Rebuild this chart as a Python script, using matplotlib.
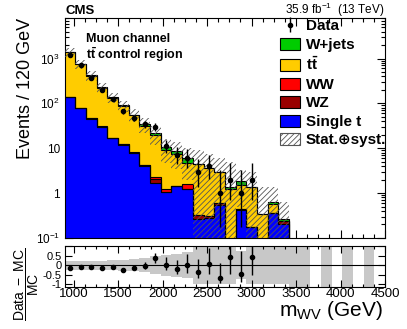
import numpy as np
import matplotlib.pyplot as plt
from matplotlib.ticker import MultipleLocator, FixedLocator, FuncFormatter, LogLocator, NullFormatter
from matplotlib.patches import Patch

plt.rcParams['font.family'] = ['Liberation Sans', 'DejaVu Sans']
plt.rcParams['mathtext.fontset'] = 'custom'
plt.rcParams['mathtext.rm'] = 'Liberation Sans'
plt.rcParams['mathtext.it'] = 'Liberation Sans:italic'
plt.rcParams['mathtext.bf'] = 'Liberation Sans:bold'
plt.rcParams['axes.unicode_minus'] = False
plt.rcParams['hatch.linewidth'] = 0.6

# binning: 120 GeV bins from 900 to 4500 GeV
bin_lo = 900
bin_width = 120
n_bins = 30

# MC components per bin (only the first 21 bins are filled)
single_t = [139, 79, 45.6, 29.7, 16.6, 12, 7.8, 4.1, 1.72, 1.07, 1.45,
            1.24, 0.27, 0.275, 0.53, 0, 0.42, 0.18, 0, 0.356, 0.209]
wz = [1.0, 0.7, 0.5, 0.4, 0.3, 0.2, 0.15, 0.1, 0.33, 0, 0,
      0, 0.05, 0.035, 0.07, 0, 0.02, 0, 0, 0, 0.035]
ww = [1.5, 1.0, 0.7, 0.5, 0.4, 0.3, 0.2, 0.1, 0.18, 0.15, 0,
      0.34, 0, 0, 0, 0, 0, 0, 0, 0, 0]
ttbar = [1250, 678, 368, 194, 115, 74.5, 46.3, 26.4, 17.1, 8.0, 5.85,
         3.2, 4.2, 3.4, 2.4, 1.21, 1.04, 1.22, 0.338, 0.22, 0]
wjets = [20, 14, 9, 8, 5, 3.5, 1.5, 4, 2.5, 1.4, 1.2,
         1.2, 0, 0, 0, 0.17, 0.4, 0, 0, 0.065, 0.02]

# relative stat+syst uncertainty (up / down), also used for the ratio band
unc_up = [0.23, 0.23, 0.24, 0.25, 0.26, 0.28, 0.32, 0.37, 0.47, 0.55, 0.6,
          0.68, 1.05, 1.05, 1.05, 2.5, 0.75, 1.1, 3.0, 1.1, 1.4,
          2, 2, 0, 2, 0, 2, 0, 2, 0]
unc_dn = [0.23, 0.23, 0.24, 0.25, 0.26, 0.28, 0.32, 0.37, 0.47, 0.55, 0.6,
          0.68, 1, 1, 1, 1, 0.74, 1, 1, 1, 1,
          2, 2, 0, 2, 0, 2, 0, 2, 0]

# observed events (first 18 bins)
data = [1220, 705, 375, 200, 123, 66, 48, 34, 30, 11, 7, 6, 3, 4, 1, 2, 1, 2]

colors = {'Single t': '#0000ff', 'WZ': '#990000', 'WW': '#ff0000',
          'tt': '#ffcc00', 'W+jets': '#00cc00'}

edges = bin_lo + bin_width * np.arange(n_bins + 1)
centers = 0.5 * (edges[1:] + edges[:-1])


def pad(v):
    return np.pad(np.array(v, dtype=float), (0, n_bins - len(v)))


fig = plt.figure(figsize=(4.07, 3.29), dpi=100)
ax = fig.add_axes([0.159, 0.2766, 0.787, 0.6687])
ax2 = fig.add_axes([0.159, 0.1277, 0.787, 0.1246])

floor = 1e-4
bottom = np.full(n_bins, floor)
stack = [('Single t', single_t), ('WZ', wz), ('WW', ww), ('tt', ttbar), ('W+jets', wjets)]
for name, vals in stack:
    top = bottom + pad(vals)
    ax.stairs(top, edges, baseline=bottom, fill=True, color=colors[name], lw=0, zorder=2)
    ax.stairs(top, edges, baseline=None, color='k', lw=0.8, zorder=3)
    bottom = top
total = bottom - floor

nmc = len(single_t)
up = np.array(unc_up)
dn = np.array(unc_dn)
hi = total[:nmc] * (1 + up[:nmc])
lo = np.clip(total[:nmc] * (1 - dn[:nmc]), floor, None)
ax.stairs(hi, edges[:nmc + 1], baseline=lo, fill=True, facecolor='none',
          edgecolor='#555555', hatch='//////', lw=0, zorder=4)

# data with approximate Poisson (Garwood) intervals
n = np.array(data, dtype=float)
lo_lim = n * (1 - 1 / (9 * n) - 1 / (3 * np.sqrt(n))) ** 3
hi_lim = (n + 1) * (1 - 1 / (9 * (n + 1)) + 1 / (3 * np.sqrt(n + 1))) ** 3
err = [n - lo_lim, hi_lim - n]
xd = centers[:len(data)]
hdata = ax.errorbar(xd, n, yerr=err, fmt='o', color='k', ms=3, lw=1, capsize=0, zorder=5)

ax.set_yscale('log')
ax.set_ylim(0.1, 8000)
ax.set_xlim(edges[0], edges[-1])
ax.xaxis.set_major_locator(MultipleLocator(500))
ax.xaxis.set_minor_locator(MultipleLocator(125))
ax.yaxis.set_major_locator(FixedLocator([0.1, 1, 10, 100, 1000]))
ax.yaxis.set_minor_locator(LogLocator(base=10, subs=np.arange(2, 10)))
ax.yaxis.set_minor_formatter(NullFormatter())
ylab = {0.1: '$10^{-1}$', 1: '1', 10: '10', 100: '$10^{2}$', 1000: '$10^{3}$'}
ax.yaxis.set_major_formatter(FuncFormatter(lambda v, p: ylab.get(round(v, 1), '')))
ax.tick_params(which='both', direction='in', top=True, right=True, labelbottom=False,
               labelsize=8.5, width=0.8)
ax.tick_params(which='major', length=6)
ax.tick_params(which='minor', length=3)
ax.set_ylabel('Events / 120 GeV', fontsize=13, loc='top')
ax.yaxis.set_label_coords(-0.095, 1.0)

handles = [hdata,
           Patch(facecolor=colors['W+jets'], edgecolor='k', lw=0.8),
           Patch(facecolor=colors['tt'], edgecolor='k', lw=0.8),
           Patch(facecolor=colors['WW'], edgecolor='k', lw=0.8),
           Patch(facecolor=colors['WZ'], edgecolor='k', lw=0.8),
           Patch(facecolor=colors['Single t'], edgecolor='k', lw=0.8),
           Patch(facecolor='white', edgecolor='#555555', hatch='//////', lw=0.8)]
labels = ['Data', 'W+jets', r'$\mathbf{t\bar{t}}$', 'WW', 'WZ', 'Single t', 'Stat.\u2295syst.']
ax.legend(handles, labels, loc='upper left', bbox_to_anchor=(0.672, 0.995), frameon=False,
          prop={'weight': 'bold', 'size': 11}, handlelength=1.3, handleheight=0.85,
          labelspacing=0.27, handletextpad=0.4, borderpad=0, borderaxespad=0)

ax.text(0.066, 0.905, 'Muon channel', transform=ax.transAxes, fontsize=9, fontweight='bold', va='center')
ax.text(0.066, 0.834, r'$\mathbf{t\bar{t}}$ control region', transform=ax.transAxes,
        fontsize=9, fontweight='bold', va='center')

fig.text(65 / 407, 1 - 11 / 329, 'CMS', fontsize=9.5, fontweight='bold', va='center')
fig.text(384 / 407, 1 - 10 / 329, r'35.9 fb$^{-1}$  (13 TeV)', fontsize=8.5, ha='right', va='center')

# ratio panel
ax2.stairs(up, edges, baseline=-dn, fill=True, color='#c8c8c8', lw=0, zorder=1)
ax2.axhline(0, color='k', lw=0.8, zorder=2)
mc = total[:len(data)]
ratio = (n - mc) / mc
ax2.errorbar(xd, ratio, yerr=[err[0] / mc, err[1] / mc], fmt='o', color='k', ms=3,
             lw=1, capsize=0, zorder=3)
ax2.set_xlim(edges[0], edges[-1])
ax2.set_ylim(-1.15, 1.02)
ax2.xaxis.set_major_locator(MultipleLocator(500))
ax2.xaxis.set_minor_locator(MultipleLocator(125))
ax2.yaxis.set_major_locator(FixedLocator([-1, -0.5, 0, 0.5, 1]))
ax2.yaxis.set_major_formatter(FuncFormatter(lambda v, p: '' if v > 0.9 else '%g' % v))
ax2.tick_params(which='both', direction='in', top=True, right=True, labelsize=8, width=0.8)
ax2.tick_params(axis='y', pad=2)
ax2.tick_params(axis='x', labelsize=9.5, pad=1)
ax2.tick_params(which='major', length=5)
ax2.tick_params(which='minor', length=2.5)

fig.text(27 / 407, 1 - 284 / 329, r'$\dfrac{\mathrm{Data\ -\ MC}}{\mathrm{MC}}$', fontsize=10,
         rotation=90, ha='center', va='center')
fig.text(383 / 407, 1 - 311 / 329, r'm$_{\mathrm{WV}}$ (GeV)', fontsize=15, ha='right', va='center')

fig.savefig('out.png', dpi=100)
